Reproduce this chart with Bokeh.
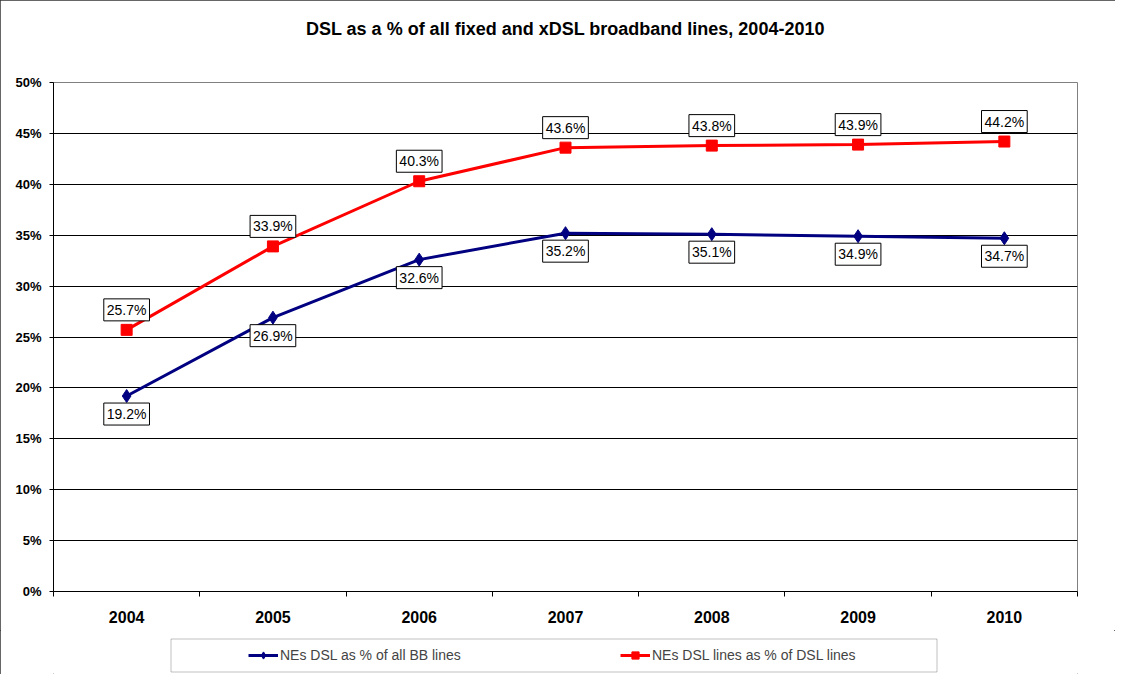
from bokeh.plotting import figure
from bokeh.layouts import column
from bokeh.models import (FixedTicker, PrintfTickFormatter, Label, Legend, LegendItem, Title,
                          BoxAnnotation)
from bokeh.embed import file_html
from bokeh.resources import INLINE

years = ["2004", "2005", "2006", "2007", "2008", "2009", "2010"]
dsl_all_bb = [19.2, 26.9, 32.6, 35.2, 35.1, 34.9, 34.7]
dsl_of_dsl = [25.7, 33.9, 40.3, 43.6, 43.8, 43.9, 44.2]
y_ticks = [0, 5, 10, 15, 20, 25, 30, 35, 40, 45, 50]
series_names = ["NEs DSL as % of all BB lines", "NEs DSL lines as % of DSL lines"]
title_text = "DSL as a % of all fixed and xDSL broadband lines, 2004-2010"

FONT = "Liberation Sans"
W = 1115
H_MAIN, H_LEG = 630, 44
ML, MR = 53, 38
navy = "#000080"
red = "#FF0000"

xs = [i + 0.5 for i in range(len(years))]

p = figure(width=W, height=H_MAIN, x_range=(0, len(years)), y_range=(0, 50),
           output_backend="svg", toolbar_location=None, title=None,
           min_border_left=ML, min_border_right=MR, min_border_top=82, min_border_bottom=39)
# spacer panel, then the real title above it
p.add_layout(Title(text=" ", text_font=FONT, text_font_size="16px", standoff=25), "above")
p.add_layout(Title(text=title_text, align="center", offset=-30, text_font=FONT,
                   text_font_size="18px", text_font_style="bold", text_color="black",
                   standoff=0), "above")
p.background_fill_color = "white"
p.border_fill_color = "white"
p.outline_line_color = "#808080"
p.outline_line_width = 1

# axes
p.yaxis.ticker = FixedTicker(ticks=y_ticks)
p.yaxis.formatter = PrintfTickFormatter(format="%d%%")
p.yaxis.major_label_text_font = FONT
p.yaxis.major_label_text_font_size = "13px"
p.yaxis.major_label_text_font_style = "bold"
p.yaxis.major_label_text_color = "black"
p.yaxis.major_tick_in = 0
p.yaxis.major_tick_out = 4
p.yaxis.minor_tick_line_color = None
p.yaxis.major_label_standoff = 8
p.yaxis.axis_line_color = "black"
p.yaxis.major_tick_line_color = "black"

p.xaxis.ticker = FixedTicker(ticks=xs, minor_ticks=list(range(len(years) + 1)))
p.xaxis.major_label_overrides = {x: y for x, y in zip(xs, years)}
p.xaxis.major_label_text_font = FONT
p.xaxis.major_label_text_font_size = "16px"
p.xaxis.major_label_text_font_style = "bold"
p.xaxis.major_label_text_color = "black"
p.xaxis.major_tick_in = 0
p.xaxis.major_tick_out = 0
p.xaxis.minor_tick_in = 0
p.xaxis.minor_tick_out = 5
p.xaxis.minor_tick_line_color = "black"
p.xaxis.major_label_standoff = 14
p.xaxis.axis_line_color = "black"

p.xgrid.grid_line_color = None
p.ygrid.grid_line_color = "black"
p.ygrid.grid_line_width = 1

# series
p.line(xs, dsl_all_bb, line_color=navy, line_width=3)
p.scatter(xs, dsl_all_bb, marker="diamond", size=13, fill_color=navy, line_color=navy)
p.line(xs, dsl_of_dsl, line_color=red, line_width=3)
p.scatter(xs, dsl_of_dsl, marker="square", size=11, fill_color=red, line_color=red)

# data labels
for x, v in zip(xs, dsl_all_bb):
    p.add_layout(Label(x=x, y=v, text=f"{v:.1f}%", y_offset=-18, text_align="center",
                       text_baseline="middle", text_font=FONT, text_font_size="14px",
                       text_color="black", background_fill_color="white",
                       border_line_color="black", border_line_width=1, padding=3))
for x, v in zip(xs, dsl_of_dsl):
    p.add_layout(Label(x=x, y=v, text=f"{v:.1f}%", y_offset=20, text_align="center",
                       text_baseline="middle", text_font=FONT, text_font_size="14px",
                       text_color="black", background_fill_color="white",
                       border_line_color="black", border_line_width=1, padding=3))

# legend strip: its own small figure whose frame lines up with the main one;
# its ranges are in pixels so the series themselves fall outside it (clipped)
q = figure(width=W, height=H_LEG, x_range=(ML, W - MR), y_range=(-H_LEG, 0),
           output_backend="svg", toolbar_location=None, title=None,
           x_axis_location=None, y_axis_location=None,
           min_border_left=ML, min_border_right=MR, min_border_top=0, min_border_bottom=0)
q.outline_line_color = None
q.grid.grid_line_color = None
q.background_fill_color = "white"
q.border_fill_color = "white"
ql1 = q.line(xs, dsl_all_bb, line_color=navy, line_width=3)
qm1 = q.scatter(xs, dsl_all_bb, marker="diamond", size=12, fill_color=navy, line_color=navy)
ql2 = q.line(xs, dsl_of_dsl, line_color=red, line_width=3)
qm2 = q.scatter(xs, dsl_of_dsl, marker="square", size=10, fill_color=red, line_color=red)
q.add_layout(BoxAnnotation(left=170.5, right=936.5, bottom=-41.5, top=-8.5, fill_alpha=0,
                           line_color="#333333", line_width=1))
legend = Legend(items=[LegendItem(label=series_names[0], renderers=[ql1, qm1]),
                       LegendItem(label=series_names[1], renderers=[ql2, qm2])],
                orientation="horizontal", location=(248 - ML, 10), margin=0,
                padding=0, spacing=40, glyph_width=30, glyph_height=18,
                label_standoff=2, label_width=300, label_height=18,
                label_text_font=FONT, label_text_font_size="14px",
                border_line_alpha=0, background_fill_alpha=0)
q.add_layout(legend, "center")

layout = column(p, q, spacing=0)
layout.styles = {"outline": "1px solid #333333", "outline-offset": "-1px"}

open("out.html", "w").write(file_html(layout, INLINE))
